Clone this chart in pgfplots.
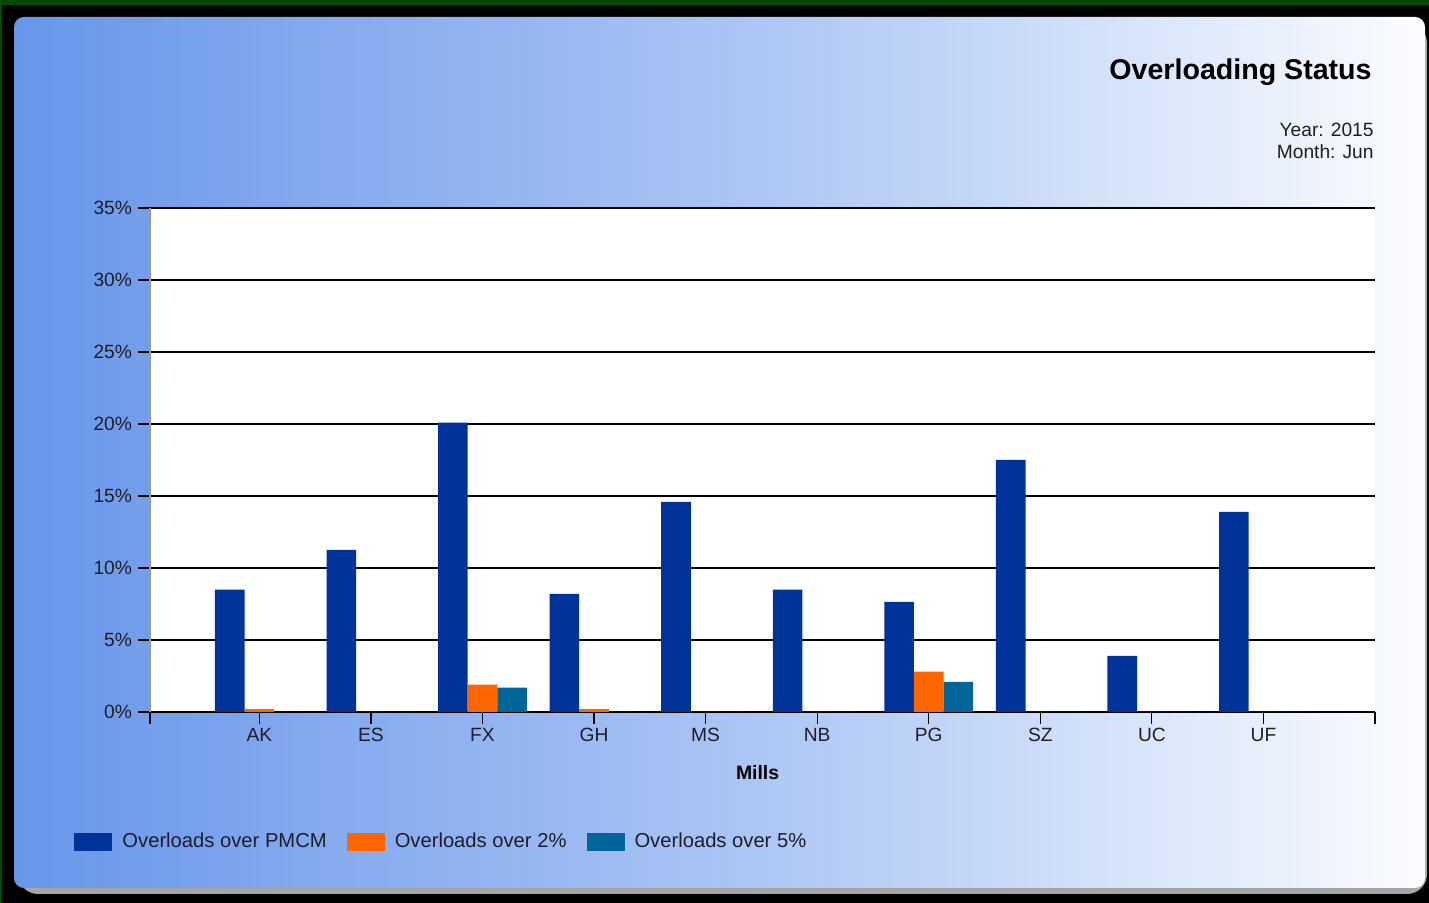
\documentclass[border=0pt]{standalone}
\usepackage{pgfplots}
\pgfplotsset{compat=1.18}
\usepackage{fontspec}
\setmainfont{Liberation Sans}

\definecolor{pmcm}{HTML}{003399}
\definecolor{overtwo}{HTML}{FF6600}
\definecolor{overfive}{HTML}{006699}
\definecolor{framegreen}{HTML}{004C00}
\definecolor{ticktext}{HTML}{1E1E2A}
\definecolor{gA}{HTML}{6896EA}
\definecolor{gB}{HTML}{8CAFF0}
\definecolor{gC}{HTML}{A9C3F4}
\definecolor{gD}{HTML}{C9DAF8}
\definecolor{gE}{HTML}{E9F0FC}
\definecolor{gF}{HTML}{FBFCFF}

% left-to-right panel gradient (the path covers the 25bp--75bp band)
\pgfdeclarehorizontalshading{panelgrad}{100bp}{%
  color(0bp)=(gA); color(25bp)=(gA); color(39bp)=(gB); color(50bp)=(gC);
  color(60.5bp)=(gD); color(69.5bp)=(gE); color(75bp)=(gF); color(100bp)=(gF)}

% share of overloads per mill (percent)
\pgfplotstableread{
idx mill pmcm two five
0 AK 8.5  0.2 0
1 ES 11.25 0  0
2 FX 20.1 1.9 1.7
3 GH 8.2  0.2 0
4 MS 14.6 0   0
5 NB 8.5  0   0
6 PG 7.65 2.8 2.1
7 SZ 17.5 0   0
8 UC 3.9  0   0
9 UF 13.9 0   0
}\overloads

\begin{document}
\begin{tikzpicture}[x=0.5pt,y=0.5pt]
% outer frame
\fill[black] (0,0) rectangle (1429,903);
\fill[framegreen] (0,898) rectangle (1429,903);
\fill[framegreen] (0,0) rectangle (2,903);
% panel shadow and panel
\fill[gray!70, rounded corners=10] (18,9) rectangle (1427,880);
\shade[shading=panelgrad, rounded corners=5] (14,15) rectangle (1425,886);

% titles
\node[anchor=base east, font=\fontsize{14.3}{16}\selectfont\bfseries, inner sep=0]
  at (1372,823) {Overloading Status};
\node[anchor=base east, font=\fontsize{9.6}{11}\selectfont, text=ticktext, inner sep=0]
  at (1374,766) {Year: 2015};
\node[anchor=base east, font=\fontsize{9.6}{11}\selectfont, text=ticktext, inner sep=0]
  at (1374,744) {Month: Jun};

\begin{axis}[
  at={(75pt,95.5pt)}, anchor=south west,
  scale only axis, width=612.5pt, height=252pt,
  axis background/.style={fill=white},
  xmin=-0.98, xmax=10, ymin=0, ymax=35,
  axis x line=bottom, axis y line=left,
  x axis line style={black, line width=0.8pt, -},
  y axis line style={gray!80, line width=0.8pt, -},
  xtick={-0.98,0,1,...,9,10},
  xticklabels={{},AK,ES,FX,GH,MS,NB,PG,SZ,UC,UF,{}},
  ytick={0,5,...,35},
  yticklabel={\pgfmathprintnumber{\tick}\%},
  /pgf/number format/assume math mode=true,
  tick align=outside, major tick length=6pt,
  tick style={black, line width=0.6pt},
  ymajorgrids, major grid style={black, line width=0.7pt},
  ticklabel style={font=\fontsize{9.6}{11}\selectfont, text=ticktext},
  xticklabel style={yshift=1.5pt},
  yticklabel style={xshift=0.5pt},
  xlabel={Mills},
  xlabel style={font=\fontsize{9.7}{11}\selectfont\bfseries, at={(axis description cs:0.496,-0.133)}, anchor=base},
  ybar, bar width=14.8pt,
  legend columns=3,
  legend style={at={(axis description cs:-0.062,-0.258)}, anchor=west,
    draw=none, fill=none, inner sep=0pt,
    font=\fontsize{10.1}{11}\selectfont, text=ticktext,
    /tikz/every odd column/.style={column sep=3pt},
    /tikz/every even column/.style={column sep=8pt}},
  legend image code/.code={\fill[#1] (0pt,-4.5pt) rectangle (19pt,4.5pt);},
]
\addplot[fill=pmcm, draw=none, bar shift=-14.8pt] table[x=idx, y=pmcm] {\overloads};
\addplot[fill=overtwo, draw=none, bar shift=0pt] table[x=idx, y=two] {\overloads};
\addplot[fill=overfive, draw=none, bar shift=14.8pt] table[x=idx, y=five] {\overloads};
\legend{Overloads over PMCM, Overloads over 2\%, Overloads over 5\%}
\end{axis}
\end{tikzpicture}
\end{document}
